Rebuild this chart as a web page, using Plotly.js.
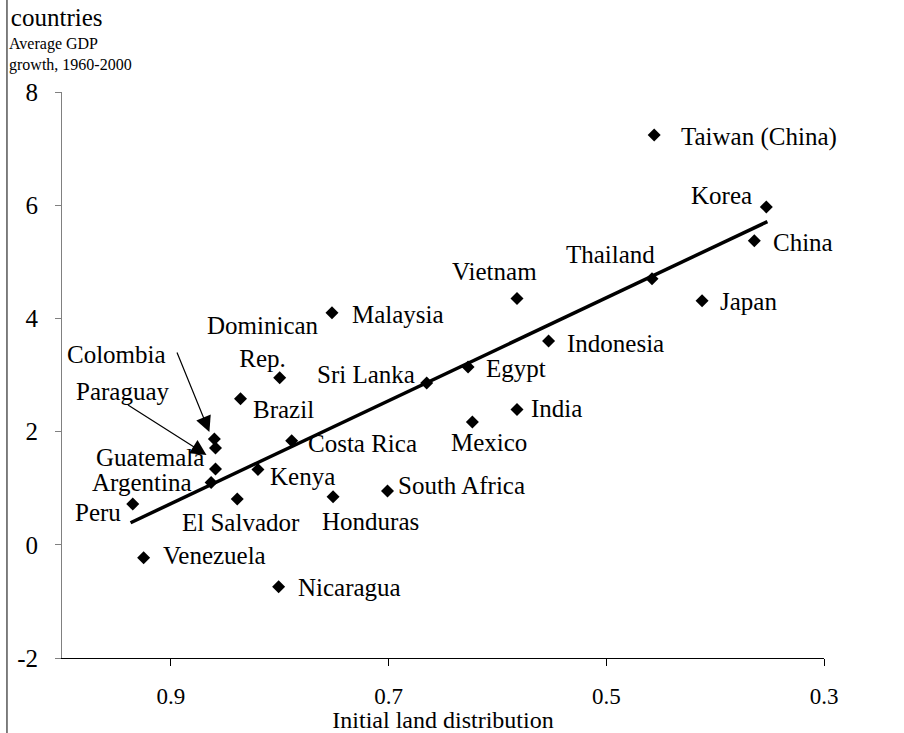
<!DOCTYPE html>
<html>
<head>
<meta charset="utf-8">
<script src="https://cdn.plot.ly/plotly-3.0.1.min.js"></script>
<style>
  html, body { margin: 0; padding: 0; background: #fff; }
  #chart { width: 904px; height: 733px; }
</style>
</head>
<body>
<div id="chart"></div>
<script>
// ---- data ----
const countries = ["Taiwan (China)", "Korea", "China", "Japan", "Thailand", "Vietnam",
  "Indonesia", "Egypt", "Sri Lanka", "India", "Mexico", "South Africa", "Malaysia",
  "Dominican Rep.", "Brazil", "Costa Rica", "Kenya", "Honduras", "El Salvador",
  "Nicaragua", "Venezuela", "Peru", "Colombia", "Paraguay", "Guatemala", "Argentina"];
const landDistribution = [0.456, 0.353, 0.364, 0.412, 0.458, 0.582,
  0.553, 0.627, 0.665, 0.582, 0.623, 0.701, 0.752,
  0.800, 0.836, 0.789, 0.820, 0.751, 0.839,
  0.801, 0.925, 0.935, 0.860, 0.859, 0.859, 0.863];
const gdpGrowth = [7.24, 5.97, 5.37, 4.31, 4.70, 4.35,
  3.60, 3.14, 2.86, 2.39, 2.17, 0.95, 4.10,
  2.95, 2.58, 1.84, 1.33, 0.85, 0.81,
  -0.74, -0.23, 0.72, 1.87, 1.71, 1.34, 1.10];
const trendX = [0.937, 0.352];
const trendY = [0.39, 5.71];
const xTickVals = [0.9, 0.7, 0.5, 0.3];
const xTickText = ["0.9", "0.7", "0.5", "0.3"];
const yTickVals = [-2, 0, 2, 4, 6, 8];
const yTickText = ["-2", "0", "2", "4", "6", "8"];
const chartTitle = "countries";
const yTitle = "Average GDP<br>growth, 1960-2000";
const xTitle = "Initial land distribution";

// ---- label placement (screen pixel offsets from each point) ----
const placement = {
  "Taiwan (China)": ["left", 25, 2],
  "Korea": ["right", -12, -11],
  "China": ["left", 17, 2],
  "Japan": ["left", 16, 1],
  "Thailand": ["center", -42, -24],
  "Vietnam": ["center", -23, -27],
  "Indonesia": ["left", 16, 2],
  "Egypt": ["left", 16, 1],
  "Sri Lanka": ["right", -10, -8],
  "India": ["left", 12, -1],
  "Mexico": ["center", 17, 21],
  "South Africa": ["left", 9, -6],
  "Malaysia": ["left", 18, 2],
  "Dominican Rep.": ["center", -17, -36],
  "Brazil": ["left", 10, 11],
  "Costa Rica": ["left", 14, 3],
  "Kenya": ["left", 10, 7],
  "Honduras": ["center", 37, 25],
  "El Salvador": ["center", 4, 24],
  "Nicaragua": ["left", 17, 1],
  "Venezuela": ["left", 17, -2],
  "Peru": ["right", -10, 8],
  "Colombia": ["right", -46, -84],
  "Paraguay": ["right", -43, -57],
  "Guatemala": ["right", -9, -11],
  "Argentina": ["right", -17, 0]
};
// arrows: [dx tip shift, dy tip shift, ax, ay]
const arrows = {
  "Colombia": [-5, -7, -33, -81],
  "Paraguay": [-9, 7, -80, -51]
};

const FONT = "Liberation Serif, Times New Roman, serif";
const LBL = 25;

const annotations = [];
countries.forEach((c, i) => {
  const p = placement[c];
  annotations.push({
    x: landDistribution[i], y: gdpGrowth[i], xref: "x", yref: "y",
    text: c === "Dominican Rep." ? "Dominican<br>Rep." : c,
    showarrow: false, xanchor: p[0], yanchor: "middle", align: "center",
    xshift: p[1], yshift: -p[2],
    font: { family: FONT, size: LBL, color: "#000" }
  });
  if (arrows[c]) {
    const a = arrows[c];
    annotations.push({
      x: landDistribution[i], y: gdpGrowth[i], xref: "x", yref: "y",
      text: "", showarrow: true, arrowhead: 2, arrowsize: 2.6, arrowwidth: 1.2,
      arrowcolor: "#000", ax: a[2], ay: a[3], xshift: a[0], yshift: -a[1], standoff: 0
    });
  }
});
annotations.push({
  xref: "paper", yref: "paper", x: -0.072, y: 1.066, xanchor: "left", yanchor: "middle",
  text: yTitle, showarrow: false, align: "left",
  font: { family: FONT, size: 16, color: "#000" }
});

const traces = [
  {
    x: trendX, y: trendY, type: "scatter", mode: "lines",
    line: { color: "#000", width: 3.5 }, hoverinfo: "skip"
  },
  {
    x: landDistribution, y: gdpGrowth, text: countries, type: "scatter", mode: "markers",
    marker: { symbol: "diamond", size: 10, color: "#000" }
  }
];

const layout = {
  width: 904, height: 733,
  margin: { l: 62, r: 80, t: 92, b: 75 },
  paper_bgcolor: "#fff", plot_bgcolor: "#fff",
  showlegend: false,
  font: { family: FONT, color: "#000" },
  title: {
    text: chartTitle, x: 0.012, xanchor: "left", xref: "container",
    y: 0.976, yanchor: "middle", yref: "container",
    font: { family: FONT, size: 25, color: "#000" }
  },
  xaxis: {
    range: [1.0, 0.3], autorange: false,
    tickmode: "array", tickvals: xTickVals, ticktext: xTickText,
    ticks: "outside", ticklen: 7, tickwidth: 1, tickcolor: "#000",
    showline: true, linecolor: "#000", linewidth: 1,
    showgrid: false, zeroline: false,
    tickfont: { family: FONT, size: 23, color: "#000" },
    ticklabelstandoff: 10,
    title: { text: xTitle, standoff: 4, font: { family: FONT, size: 24, color: "#000" } }
  },
  yaxis: {
    range: [-2, 8], autorange: false,
    tickmode: "array", tickvals: yTickVals, ticktext: yTickText,
    ticks: "outside", ticklen: 6, tickwidth: 1, tickcolor: "#808080",
    showline: true, linecolor: "#808080", linewidth: 1,
    showgrid: false, zeroline: false,
    tickfont: { family: FONT, size: 25, color: "#000" },
    ticklabelstandoff: 12
  },
  annotations: annotations,
  shapes: [{
    type: "line", xref: "paper", yref: "paper",
    x0: -0.0722, x1: -0.0722, y0: -0.2, y1: 1.2,
    line: { color: "#000", width: 1 }
  }]
};

Plotly.newPlot("chart", traces, layout, { staticPlot: true, displayModeBar: false });
</script>
</body>
</html>
